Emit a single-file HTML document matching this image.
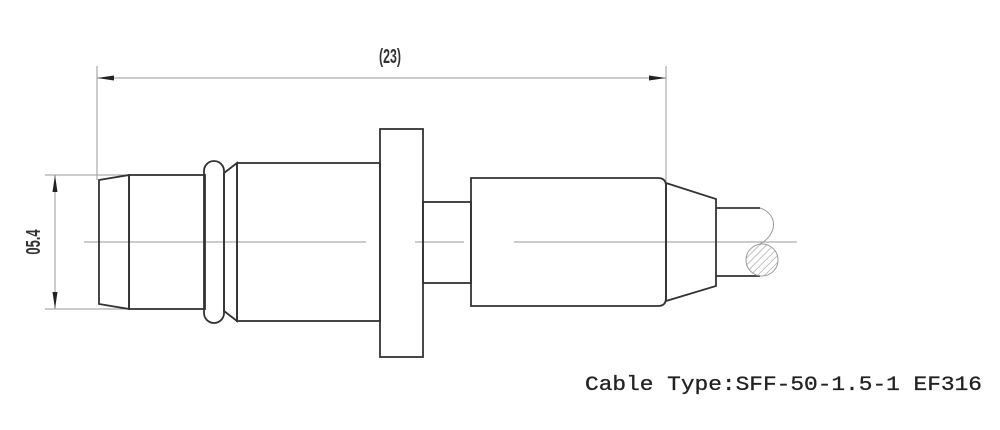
<!DOCTYPE html>
<html><head><style>html,body{margin:0;padding:0;background:#fff;}svg{display:block}</style></head>
<body>
<svg width="1000" height="430" viewBox="0 0 1000 430" xmlns="http://www.w3.org/2000/svg">
<defs>
<pattern id="h" width="5" height="5" patternUnits="userSpaceOnUse" patternTransform="rotate(45)">
<line x1="0" y1="0" x2="0" y2="5" stroke="#999" stroke-width="1.2"/>
</pattern>
<clipPath id="c"><circle cx="762" cy="260" r="16"/></clipPath>
</defs>
<g fill="none" stroke="#9a9a9a" stroke-width="1">
<line x1="97" y1="66" x2="97" y2="180"/>
<line x1="666" y1="66" x2="666" y2="183"/>
<line x1="97" y1="78" x2="666" y2="78"/>
<line x1="45" y1="175" x2="129" y2="175"/>
<line x1="45" y1="309" x2="129" y2="309"/>
<line x1="55" y1="175" x2="55" y2="309"/>
<line x1="84" y1="242" x2="366" y2="242"/>
<line x1="415" y1="242" x2="464" y2="242"/>
<line x1="514" y1="242" x2="797" y2="242"/>
</g>
<g fill="#222">
<polygon points="97,78 114,75.5 114,80.5"/>
<polygon points="666,78 649,75.5 649,80.5"/>
<polygon points="55,175 52.5,192 57.5,192"/>
<polygon points="55,309 52.5,292 57.5,292"/>
</g>
<g fill="none" stroke="#333" stroke-width="1.8">
<polygon points="99,180 129,175 129,309 99,304"/>
<rect x="129" y="175" width="76" height="134"/>
<rect x="204" y="161" width="20" height="162" rx="10"/>
<polygon points="224,173 237,163 237,321 224,311"/>
<rect x="237" y="163" width="143" height="158"/>
<rect x="380" y="129" width="43" height="228"/>
<rect x="423" y="202" width="48" height="81"/>
<path d="M471,178 H658 Q666,178 666,186 V298 Q666,306 658,306 H471 Z"/>
<polygon points="666,183 716,199 716,286 666,301"/>
<line x1="716" y1="208" x2="760" y2="208"/>
<line x1="716" y1="276" x2="760" y2="276"/>
</g>
<g fill="none" stroke="#999" stroke-width="1">
<path d="M760,208 C778,214 778,234 760,244"/>
<circle cx="762" cy="260" r="16"/>
</g>
<rect x="740" y="240" width="40" height="40" fill="url(#h)" clip-path="url(#c)"/>
<text x="0" y="0" font-family="Liberation Sans, sans-serif" font-size="20" font-weight="bold" text-anchor="middle" fill="#333" transform="translate(390 63) scale(0.62 1)">(23)</text>
<text x="0" y="0" font-family="Liberation Sans, sans-serif" font-size="20" font-weight="bold" text-anchor="middle" fill="#333" transform="translate(40 242) rotate(-90) scale(0.65 1)">05.4</text>
<text x="585" y="390" font-family="Liberation Mono, monospace" font-size="20" fill="#222" stroke="#222" stroke-width="0.3" textLength="397" lengthAdjust="spacingAndGlyphs">Cable Type:SFF-50-1.5-1 EF316</text>
</svg>
</body></html>
